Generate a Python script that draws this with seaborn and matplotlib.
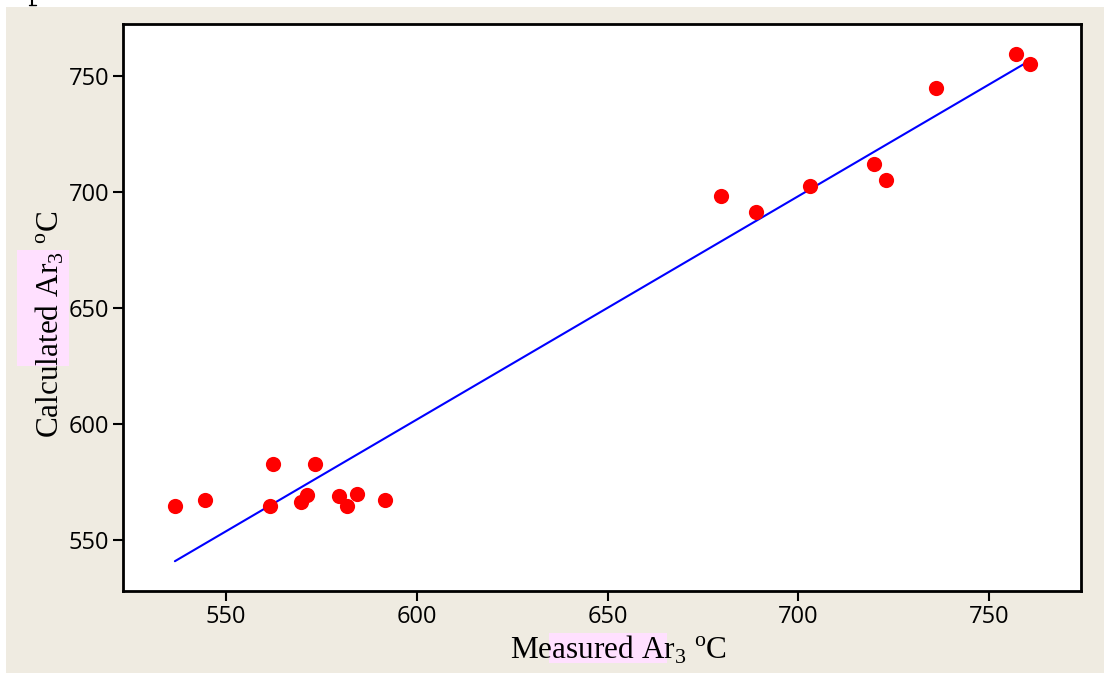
import numpy as np
import pandas as pd
import matplotlib
matplotlib.use("Agg")
import matplotlib.pyplot as plt
import seaborn as sns
from matplotlib.patches import Rectangle
from matplotlib.lines import Line2D

# measured vs calculated Ar3 temperatures (deg C)
measured = [536.6, 544.5, 562.3, 561.5, 569.7, 571.2, 573.3, 579.6, 581.7, 584.3,
            591.7, 679.7, 688.9, 703.1, 719.9, 723.0, 736.1, 757.1, 760.8]
calculated = [564.7, 567.2, 582.8, 564.7, 566.4, 569.4, 582.8, 569.0, 564.7, 569.8,
              567.2, 698.3, 691.4, 702.6, 712.1, 705.2, 744.8, 759.5, 755.2]
x_ticks = [550, 600, 650, 700, 750]
y_ticks = [550, 600, 650, 700, 750]

df = pd.DataFrame({"Measured": measured, "Calculated": calculated})

sns.set_style("white")
plt.rcParams["mathtext.fontset"] = "custom"
plt.rcParams["mathtext.rm"] = "Liberation Serif"
plt.rcParams["text.color"] = "black"
plt.rcParams["axes.labelcolor"] = "black"
plt.rcParams["xtick.color"] = "black"
plt.rcParams["ytick.color"] = "black"

bg = "#EFEBE1"
fig = plt.figure(figsize=(11.04, 6.73), dpi=100, facecolor="white")
# beige panel (top and left strips stay white)
fig.patches.append(Rectangle((6 / 1104, 0), 1, 1 - 7 / 673, transform=fig.transFigure,
                             facecolor=bg, edgecolor="none", zorder=-10))
# pink highlight boxes behind the labels
fig.patches.append(Rectangle((549 / 1104, 1 - 663 / 673), 118 / 1104, 30 / 673,
                             transform=fig.transFigure, facecolor="#FFE0FF",
                             edgecolor="none", zorder=-5))
fig.patches.append(Rectangle((17 / 1104, 1 - 366 / 673), 52 / 1104, 116 / 673,
                             transform=fig.transFigure, facecolor="#FFE0FF",
                             edgecolor="none", zorder=-5))
# glyph fragment peeking in at the top edge
fig.lines.append(Line2D([32 / 1104, 32 / 1104], [1.0, 1 - 5 / 673], transform=fig.transFigure,
                        color="black", lw=1.5))
fig.lines.append(Line2D([29 / 1104, 36 / 1104], [1 - 5 / 673, 1 - 5 / 673],
                        transform=fig.transFigure, color="black", lw=1))

ax = fig.add_axes([123 / 1104, 1 - 591 / 673, (1081 - 123) / 1104, (591 - 24) / 673])
ax.set_facecolor("white")

sns.regplot(data=df, x="Measured", y="Calculated", ax=ax, ci=None, truncate=True,
            scatter_kws=dict(color="red", s=120, alpha=1, linewidths=0, zorder=3),
            line_kws=dict(color="blue", lw=1.5, zorder=2))

ax.set_xlim(523, 774.1)
ax.set_ylim(528.0, 772.4)
ax.set_xticks(x_ticks)
ax.set_yticks(y_ticks)
ax.set_xticklabels([str(v) for v in x_ticks], family="Open Sans", fontsize=17)
ax.set_yticklabels([str(v) for v in y_ticks], family="Open Sans", fontsize=17)
ax.tick_params(direction="out", length=7, width=1.5, color="black", pad=3,
               left=True, bottom=True)
for s in ax.spines.values():
    s.set_visible(True)
    s.set_color("black")
    s.set_linewidth(2)

ax.set_xlabel(r"Measured Ar$_3$ $^{\rm o}$C", family="Liberation Serif", fontsize=22.5)
ax.set_ylabel(r"Calculated Ar$_3$ $^{\rm o}$C", family="Liberation Serif", fontsize=22.5)
ax.xaxis.set_label_coords(0.517, -0.076, transform=ax.transAxes)
ax.xaxis.label.set_va("top")
ax.yaxis.set_label_coords(-0.06, 0.47, transform=ax.transAxes)

fig.savefig("out.png", dpi=100, facecolor=fig.get_facecolor())
